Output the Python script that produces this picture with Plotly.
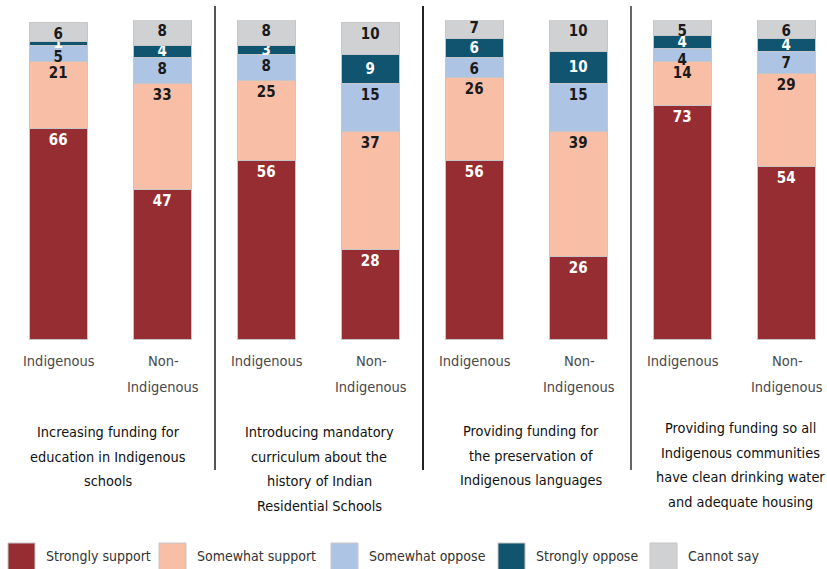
import plotly.graph_objects as go

# ---- data ----
categories = ["Indigenous", "Non-Indigenous"] * 4
titles = [
    ["Increasing funding for", "education in Indigenous", "schools"],
    ["Introducing mandatory", "curriculum about the", "history of Indian", "Residential Schools"],
    ["Providing funding for", "the preservation of", "Indigenous languages"],
    ["Providing funding so all", "Indigenous communities", "have clean drinking water", "and adequate housing"],
]
series_names = ["Strongly support", "Somewhat support", "Somewhat oppose", "Strongly oppose", "Cannot say"]
strongly_support = [66, 47, 56, 28, 56, 26, 73, 54]
somewhat_support = [21, 33, 25, 37, 26, 39, 14, 29]
somewhat_oppose = [5, 8, 8, 15, 6, 15, 4, 7]
strongly_oppose = [1, 4, 3, 9, 6, 10, 4, 4]
cannot_say = [6, 8, 8, 10, 7, 10, 5, 6]

series_values = [strongly_support, somewhat_support, somewhat_oppose, strongly_oppose, cannot_say]
colors = ["#962D33", "#F9BEA6", "#AEC4E4", "#11546F", "#D0D1D3"]
text_colors = ["white", "#1a1a1a", "#1a1a1a", "white", "#1a1a1a"]
text_anchors = ["end", "end", "end", "middle", "end"]

FONT = "DejaVu Sans Condensed, DejaVu Sans, sans-serif"
W, H = 827, 569
TOP, BOTTOM = 20, 340  # plot area pixels

xs = list(range(len(categories)))

fig = go.Figure()
for name, vals, col, tcol, anc in zip(series_names, series_values, colors, text_colors, text_anchors):
    fig.add_trace(go.Bar(
        x=xs, y=vals, name=name, width=58 / 104,
        marker=dict(color=col, line=dict(color="#C6C6C8", width=1.5)),
        text=[str(v) for v in vals], textposition="inside", insidetextanchor=anc,
        constraintext="none", textangle=0,
        textfont=dict(family=FONT, size=15, color=tcol, weight="bold"),
        showlegend=False, hoverinfo="skip",
    ))


def py(p):  # pixel y -> paper
    return (BOTTOM - p) / (BOTTOM - TOP)


def pxx(p):
    return p / W


annotations = []
# category labels
for i, c in enumerate(categories):
    if c == "Indigenous":
        lines = [(c, 361)]
    else:
        lines = [("Non-", 361), ("Indigenous", 387)]
    for t, yy in lines:
        annotations.append(dict(x=i, y=py(yy), xref="x", yref="paper", text=t, showarrow=False,
                                xanchor="center", yanchor="middle",
                                font=dict(family=FONT, size=14.5, color="#4a4a4a")))

# titles
title_tops = [432, 432, 431, 428]
title_cx = [108, 319, 531, 740]
for g, lines in enumerate(titles):
    for k, t in enumerate(lines):
        annotations.append(dict(x=pxx(title_cx[g]), y=py(title_tops[g] + k * 24.7), xref="paper", yref="paper",
                                text=t, showarrow=False, xanchor="center", yanchor="middle",
                                font=dict(family=FONT, size=14.4, color="#111111")))

shapes = []
sep_colors = ["#555555", "#222222", "#666666"]
for g in range(3):
    shapes.append(dict(type="line", xref="x", yref="paper", x0=2 * g + 1.5, x1=2 * g + 1.5,
                       y0=py(470), y1=py(6), line=dict(color=sep_colors[g], width=2)))

# legend
leg_sq = [8, 159, 331, 498, 650]
for name, col, x0 in zip(series_names, colors, leg_sq):
    shapes.append(dict(type="rect", xref="paper", yref="paper", x0=pxx(x0), x1=pxx(x0 + 27),
                       y0=py(570), y1=py(543), fillcolor=col, line=dict(color="#C6C6C8", width=1)))
    annotations.append(dict(x=pxx(x0 + 36), y=py(556), xref="paper", yref="paper", text=name,
                            showarrow=False, xanchor="left", yanchor="middle",
                            font=dict(family=FONT, size=14, color="#333333")))

fig.update_layout(
    width=W, height=H, barmode="stack", bargap=0,
    margin=dict(l=0, r=0, t=TOP, b=H - BOTTOM, pad=0),
    paper_bgcolor="white", plot_bgcolor="white",
    xaxis=dict(range=[-59 / 104, (W - 59) / 104], visible=False, fixedrange=True),
    yaxis=dict(range=[0, 100], visible=False, fixedrange=True),
    annotations=annotations, shapes=shapes,
    font=dict(family=FONT),
)

fig.write_html(
    "out.html",
    config={"displayModeBar": False},
    post_script="document.body.style.margin='0';document.body.style.padding='0';"
                "document.documentElement.style.overflow='hidden';",
)
